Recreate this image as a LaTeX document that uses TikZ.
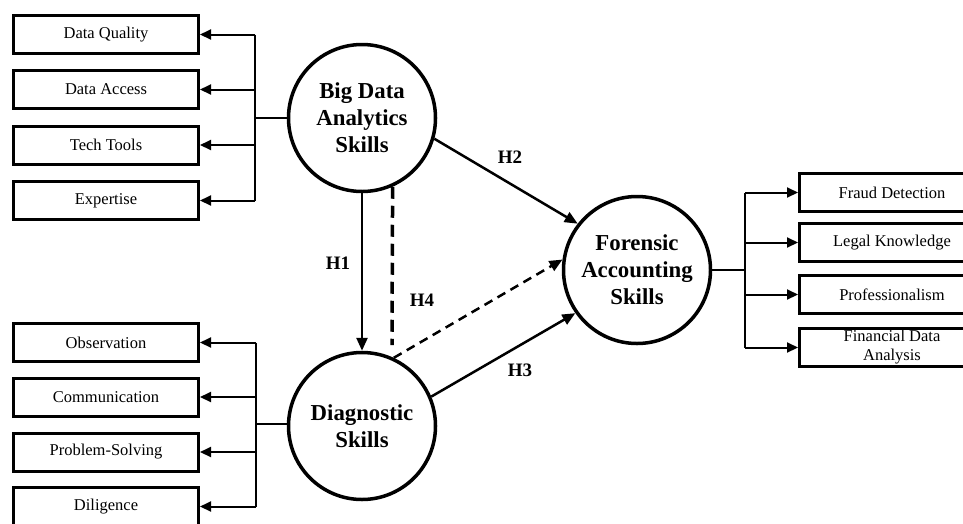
\documentclass[tikz,border=0pt]{standalone}
\usepackage{fontspec}
\setmainfont{Liberation Serif}
\usetikzlibrary{arrows.meta}
\tikzset{
    item-box/.style = {draw=black, fill=white, line width=3pt, rectangle, minimum width=185pt, minimum height=38pt, inner sep=0pt, align=center, font=\fontsize{16.5}{19}\selectfont},
    construct/.style = {draw=black, fill=white, circle, line width=3.5pt, minimum size=147pt, inner sep=0pt, align=center, font=\fontsize{22.8}{27}\selectfont\bfseries},
    bus-line/.style = {line width=2pt},
    bus-arrow/.style = {line width=2pt, -{Triangle[length=11pt,width=10pt]}},
    hyp-arrow/.style = {line width=2.5pt, -{Triangle[length=13pt,width=11pt]}},
    hyp-label/.style = {font=\fontsize{19}{22}\selectfont\bfseries},
}

\begin{document}
\begin{tikzpicture}[x=1pt, y=-1pt]
\useasboundingbox (0,0) rectangle (963,523);
\clip (0,0) rectangle (963,523);

% constructs
\node [construct] (bda) at (362,118) {Big Data\\Analytics\\Skills};
\node [construct] (dia) at (362,426) {Diagnostic\\Skills};
\node [construct] (fas) at (637,270) {Forensic\\Accounting\\Skills};

% indicators of big data analytics
\node [item-box] (dq) at (106,34.5) {Data Quality};
\node [item-box] (da) at (106,89.5) {Data Access};
\node [item-box] (tt) at (106,145) {Tech Tools};
\node [item-box] (ex) at (106,200.5) {Expertise};

% indicators of diagnostic skills
\node [item-box] (ob) at (106,342.5) {Observation};
\node [item-box] (co) at (106,397) {Communication};
\node [item-box] (ps) at (106,452) {Problem-Solving};
\node [item-box] (di) at (106,506.5) {Diligence};

% indicators of forensic accounting
\node [item-box] (fd) at (892,192.5) {Fraud Detection};
\node [item-box] (lk) at (892,242.5) {Legal Knowledge};
\node [item-box] (pr) at (892,294.5) {Professionalism};
\node [item-box] (fa) at (892,347.5) {Financial Data\\Analysis};

% buses
\coordinate (bus-a) at (255,118);
\coordinate (bus-b) at (256,424);
\coordinate (bus-c) at (745,270);

\draw [bus-line] (bda.west) -- (bus-a);
\draw [bus-line] (bus-a |- dq) -- (bus-a |- ex);
\foreach \k in {dq,da,tt,ex}
    \draw [bus-arrow] (bus-a |- \k) -- (\k.east);

\draw [bus-line] (dia.west |- bus-b) -- (bus-b);
\draw [bus-line] (bus-b |- ob) -- (bus-b |- di);
\foreach \k in {ob,co,ps,di}
    \draw [bus-arrow] (bus-b |- \k) -- (\k.east);

\draw [bus-line] (fas.east) -- (bus-c);
\draw [bus-line] (bus-c |- fd) -- (bus-c |- fa);
\foreach \k in {fd,lk,pr,fa}
    \draw [bus-arrow] (bus-c |- \k) -- (\k.west);

% hypotheses
\draw [hyp-arrow] (bda.south) -- (dia.north);
\draw [hyp-arrow] (bda.-16) -- (fas.142);
\draw [hyp-arrow] (dia.23) -- (fas.215);

\coordinate (h4-end) at (392,345);
\draw [line width=3.5pt, dash pattern=on 12pt off 7pt] (bda.-66) -- (h4-end);
\draw [hyp-arrow, dash pattern=on 9pt off 6pt] (dia.65) -- (fas.172);

\node [hyp-label] (h1) at (338,263) {H1};
\node [hyp-label] (h2) at (510,157) {H2};
\node [hyp-label] (h3) at (520,370) {H3};
\node [hyp-label] (h4) at (422,300) {H4};
\end{tikzpicture}
\end{document}
